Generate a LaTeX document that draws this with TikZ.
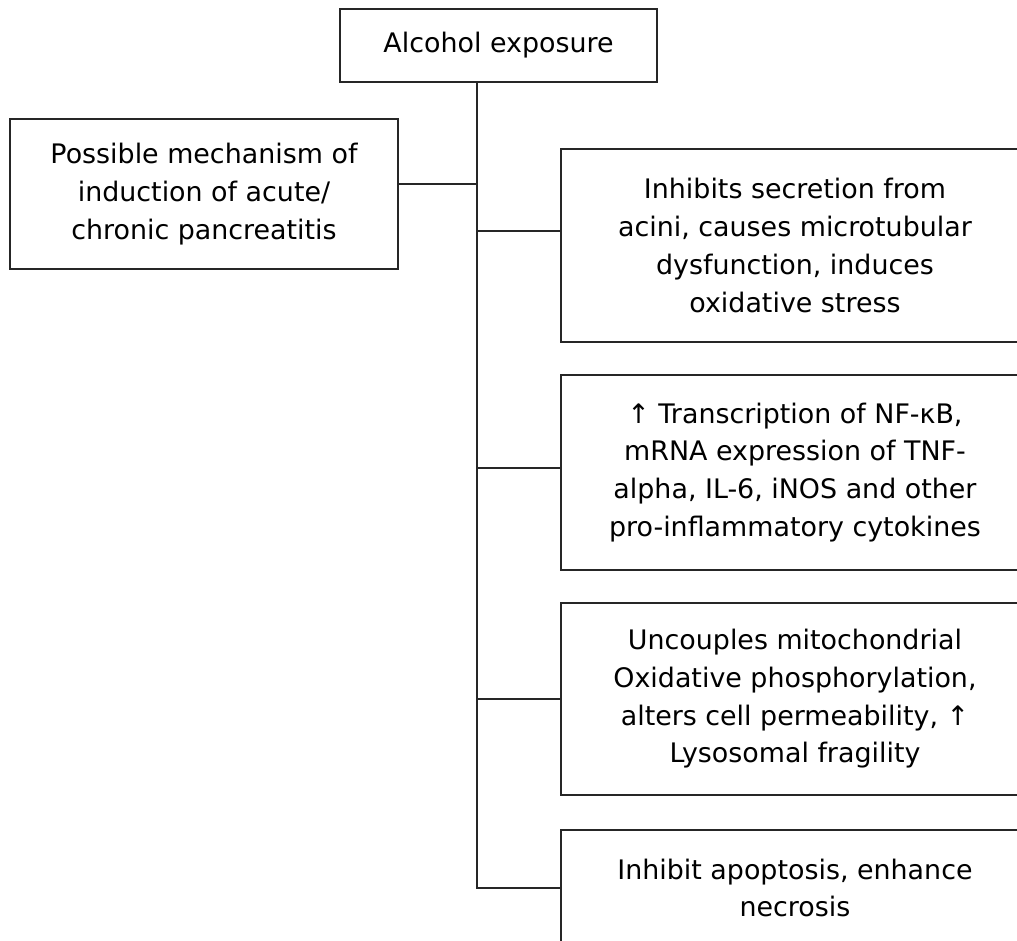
\documentclass[tikz,border=0pt]{standalone}
\usepackage{fontspec}
\setmainfont{DejaVu Sans}
\usetikzlibrary{positioning}
\tikzset{
    mechbox/.style={draw=black!85, line width=0.8pt, align=center, font=\fontsize{15.3pt}{21.5pt}\selectfont, inner sep=2pt, outer sep=0pt},
    effectbox/.style={mechbox, minimum width=9.36cm},
    treeline/.style={draw=black!85, line width=0.8pt}
}

\begin{document}
\begin{tikzpicture}[x=0.02cm, y=-0.02cm, node distance=0.66cm]
    \useasboundingbox (0,0) rectangle (1017,940);
    \clip (0,0) rectangle (1017,940);
    \node[mechbox, anchor=north west, minimum width=6.34cm, minimum height=1.46cm] (alcohol) at (340,9) {Alcohol exposure};
    \node[mechbox, anchor=north west, minimum width=7.76cm, minimum height=3.0cm] (mechanism) at (10,119) {Possible mechanism of\\induction of acute/\\chronic pancreatitis};
    \node[effectbox, anchor=north west, minimum height=3.86cm] (secretion) at (561,149) {Inhibits secretion from\\acini, causes microtubular\\dysfunction, induces\\oxidative stress};
    \node[effectbox, minimum height=3.9cm, below=of secretion] (cytokine) {↑ Transcription of NF-κB,\\mRNA expression of TNF-\\alpha, IL-6, iNOS and other\\pro-inflammatory cytokines};
    \node[effectbox, minimum height=3.84cm, below=of cytokine] (mito) {Uncouples mitochondrial\\Oxidative phosphorylation,\\alters cell permeability, ↑\\Lysosomal fragility};
    \node[effectbox, minimum height=2.32cm, below=0.7cm of mito] (necrosis) {Inhibit apoptosis, enhance\\necrosis};
    % trunk and branches
    \coordinate (trunk) at (477,82);
    \draw[treeline] (trunk) |- (necrosis.west);
    \draw[treeline] ([yshift=0.2cm]mechanism.east) -- ([yshift=0.2cm]mechanism.east -| trunk);
    \draw[treeline] ([yshift=0.29cm]secretion.west) -- ([yshift=0.29cm]secretion.west -| trunk);
    \draw[treeline] ([yshift=0.09cm]cytokine.west) -- ([yshift=0.09cm]cytokine.west -| trunk);
    \draw[treeline] (mito.west) -- (mito.west -| trunk);
\end{tikzpicture}
\end{document}
